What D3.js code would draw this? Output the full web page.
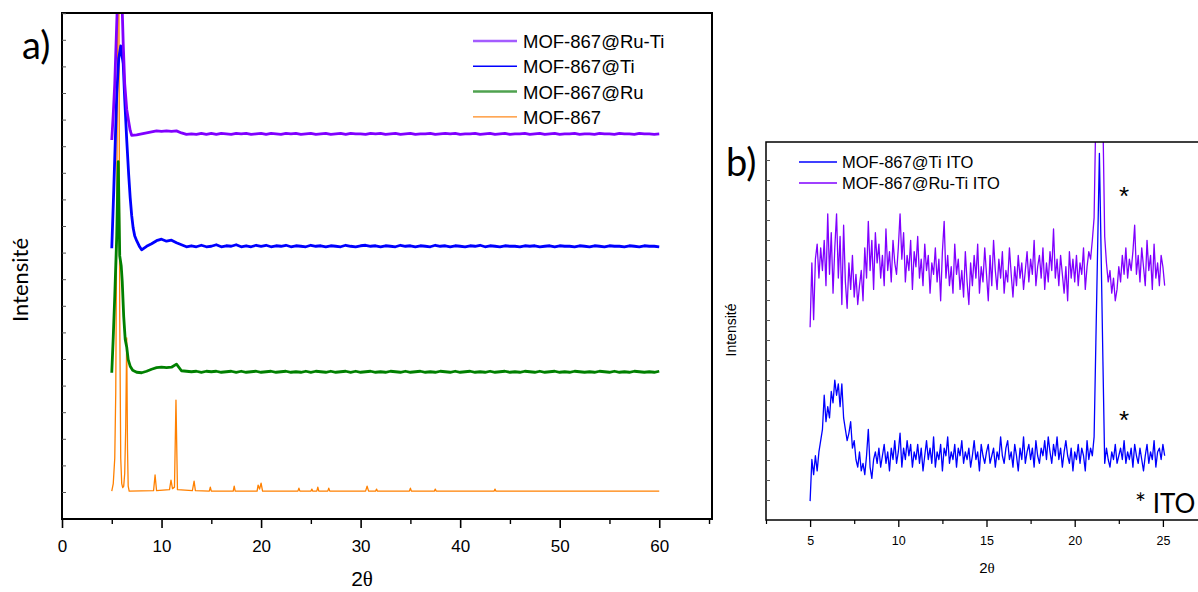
<!DOCTYPE html>
<html><head><meta charset="utf-8">
<script src="https://cdn.jsdelivr.net/npm/d3@7"></script>
<style>body{margin:0;background:#fff} svg{display:block}</style>
</head><body>
<svg id="c" width="1198" height="592"></svg>
<script>
// ---------------- Panel a data (2θ, intensity a.u., curves stacked) ----------------
const aSeriesNames = ["MOF-867@Ru-Ti", "MOF-867@Ti", "MOF-867@Ru", "MOF-867"];
const aXTicks = [0, 10, 20, 30, 40, 50, 60];
const aXMinor = [5, 15, 25, 35, 45, 55, 65];
const aTailStep = 0.5;

const purpleHead = [[5.0,74.9],[5.15,80],[5.3,86],[5.45,95],[5.6,104],[5.8,112],[6.0,104],[6.15,94],[6.3,86],[6.5,81],[6.7,78.5],[6.85,76.8],[7.0,75.8]];
const purpleTailStart = 7.5;
const purpleTail = [
 75.9,76.1,76.3,76.5,76.7,76.6,76.7,76.6,
 76.7,76.3,76.0,76.1,76.0,76.2,76.0,76.2,
 76.0,76.2,76.1,76.0,76.2,76.1,76.2,76.0,
 76.1,76.2,76.0,76.2,76.1,76.0,76.2,76.1,
 76.2,76.0,76.1,76.2,76.0,76.1,76.2,76.0,
 76.1,76.2,76.0,76.2,76.1,76.1,76.0,76.2,
 76.1,76.2,76.0,76.1,76.2,76.0,76.1,76.2,
 76.0,76.1,76.1,76.2,76.0,76.1,76.2,76.1,
 76.2,76.0,76.1,76.1,76.2,76.0,76.1,76.2,
 76.0,76.1,76.2,76.0,76.1,76.1,76.2,76.0,
 76.1,76.2,76.0,76.1,76.2,76.0,76.1,76.1,
 76.2,76.0,76.1,76.1,76.0,76.2,76.1,76.1,
 76.0,76.2,76.1,76.1,76.0,76.2,76.1,76.1,
 76.0,76.1];

const blueHead = [[5.0,53.5],[5.2,65],[5.5,84],[5.7,91],[5.9,93.5],[6.0,92],[6.15,90],[6.3,83],[6.5,75],[6.7,68],[6.85,63.5],[7.0,60],[7.15,57.5],[7.3,56],[7.5,55],[7.8,53.8]];
const blueTailStart = 8.0;
const blueTail = [
 53.2,53.9,54.4,55.0,55.3,54.9,55.1,54.6,
 54.2,53.8,54.0,53.8,54.1,53.8,53.9,54.2,
 53.8,54.0,53.9,54.2,53.8,54.0,53.8,54.1,
 53.9,54.1,53.8,54.0,53.9,54.1,53.8,54.0,
 53.9,53.8,54.1,53.9,54.0,53.8,54.0,53.9,
 53.8,54.1,53.9,53.8,54.0,54.1,53.9,54.0,
 53.8,54.0,53.9,53.8,54.1,53.9,54.0,53.8,
 54.0,53.9,53.8,54.1,53.9,54.0,53.8,54.0,
 53.9,53.8,54.0,53.9,54.1,53.8,54.0,53.9,
 53.8,54.0,53.9,53.9,53.8,54.0,53.9,54.0,
 53.8,53.9,54.0,53.8,54.0,53.9,53.9,53.8,
 54.0,53.9,53.8,54.0,53.9,53.8,54.0,53.9,
 53.9,53.8,54.0,53.9,53.8,54.0,53.9,53.9,
 53.8];

const greenHead = [[5.0,28.9],[5.15,36],[5.3,44],[5.5,56],[5.65,70.6],[5.8,52],[5.95,50],[6.05,47],[6.2,40],[6.35,35.5],[6.5,34],[6.65,31.5],[6.85,30.2],[7.1,29.4]];
const greenTailStart = 7.5;
const greenTail = [
 29.0,28.9,29.2,29.6,29.9,30.0,29.9,30.0,
 30.6,29.3,29.2,29.1,29.2,29.0,29.2,29.1,
 29.2,29.0,29.1,29.2,29.0,29.2,29.0,29.1,
 29.2,29.0,29.1,29.2,29.0,29.1,29.2,29.0,
 29.1,29.0,29.2,29.0,29.2,29.1,29.0,29.2,
 29.0,29.1,29.2,29.0,29.2,29.0,29.1,29.2,
 29.0,29.1,29.0,29.2,29.1,29.0,29.2,29.0,
 29.1,29.2,29.0,29.1,29.0,29.2,29.1,29.0,
 29.2,29.0,29.1,29.2,29.0,29.1,29.0,29.2,
 29.0,29.1,29.2,29.0,29.1,29.0,29.2,29.1,
 29.0,29.2,29.0,29.1,29.2,29.0,29.1,29.0,
 29.2,29.1,29.0,29.1,29.0,29.2,29.1,29.0,
 29.2,29.0,29.1,29.0,29.2,29.1,29.0,29.1,
 29.0,29.2];

const orangePoints = [[5.0,5.5],[5.15,7],[5.3,12],[5.4,25],[5.5,60],[5.58,100],[5.65,120],[5.72,100],[5.8,40],[5.9,12],[6.0,7],[6.1,6.2],[6.2,6.5],[6.3,9],[6.4,18],[6.5,35.8],[6.58,14],[6.65,6.5],[6.75,5.5],
 [9.2,5.6],[9.35,8.7],[9.5,5.6],[10.8,5.8],[10.95,7.7],[11.1,6.0],[11.3,6.3],[11.45,23.5],[11.6,5.8],[13.1,5.6],[13.27,7.5],[13.4,5.6],
 [14.8,5.5],[14.9,6.3],[15.0,5.5],[17.2,5.5],[17.3,6.5],[17.4,5.5],[19.6,5.5],[19.7,6.7],[19.85,5.9],[20.0,7.1],[20.15,5.5],
 [23.7,5.5],[23.8,6.1],[23.9,5.5],[25.0,5.5],[25.1,5.9],[25.2,5.5],[25.6,5.5],[25.7,6.3],[25.8,5.5],[26.7,5.5],[26.8,6.1],[26.9,5.5],
 [30.5,5.5],[30.65,6.5],[30.8,5.5],[31.5,5.5],[31.6,5.9],[31.7,5.5],[34.9,5.5],[35.0,6.1],[35.1,5.5],[37.4,5.5],[37.5,5.9],[37.6,5.5],
 [43.4,5.5],[43.5,5.9],[43.6,5.5],[60.0,5.5]];

// ---------------- Panel b data (2θ from 5.0 to 25.1 in 0.1 steps) ----------------
const bSeriesNames = ["MOF-867@Ti ITO", "MOF-867@Ru-Ti ITO"];
const bXTicks = [5, 10, 15, 20, 25];
const bXMinor = [2.5, 7.5, 12.5, 17.5, 22.5, 27.5];
const bStart = 5.0, bStep = 0.1;
const bBlue = [
 5,16,12,17,13,18,21,24,33,26,
 30,27,34,31,37,33,36,30,36,27,
 24,21,23,26,19,21,16,14,18,13,
 15,12,17,24,14,11,16,18,15,19,
 14,17,20,15,18,13,19,16,21,15,
 18,23,14,19,16,21,17,20,14,18,
 16,20,15,19,13,17,21,16,19,15,
 22,14,18,16,20,13,19,17,22,15,
 18,16,20,14,19,17,21,15,18,16,
 19,14,17,21,16,18,13,20,17,15,
 18,20,15,17,19,14,18,16,22,17,
 15,19,21,16,18,14,20,17,13,19,
 16,22,15,18,20,16,19,14,21,17,
 15,19,17,21,16,22,18,15,20,17,
 22,16,19,14,18,21,17,15,19,13,
 18,16,20,15,19,17,13,21,16,19,
 17,22,47,72,97,70,42,15,19,16,
 14,18,16,20,15,17,19,16,21,15,
 18,16,19,14,20,17,15,19,16,13,
 17,20,15,18,16,21,14,18,19,16,
 20,17];
const bPurple = [
 51,68,53,69,73,64,72,66,74,62,
 81,65,76,60,72,81,64,75,57,78,
 63,56,68,61,70,59,65,57,62,66,
 58,72,64,79,66,74,61,76,68,73,
 64,70,62,77,66,71,63,74,68,65,
 72,81,69,76,63,70,66,74,61,71,
 67,75,64,69,62,73,66,70,60,68,
 65,72,63,69,58,71,79,64,70,62,
 67,60,73,65,69,61,66,59,71,63,
 57,68,62,70,64,73,60,67,63,72,
 65,58,70,62,74,66,61,69,64,71,
 60,66,63,72,65,59,67,62,70,64,
 68,61,66,71,63,69,65,74,62,67,
 70,64,72,61,68,63,71,66,77,64,
 69,62,70,65,60,67,58,71,64,69,
 63,70,62,68,65,72,61,67,71,69,
 74,80,108,135,140,130,106,75,68,63,
 66,60,64,58,61,67,63,70,65,72,
 64,69,66,71,78,65,70,63,72,67,
 62,74,66,70,61,73,64,68,62,70,
 67,62];

// ---------------- Drawing ----------------
const svg = d3.select('#c');
const SANS = "'Liberation Sans', Arial, sans-serif";
const HUM = "Lato, 'Open Sans', sans-serif";

const withTail = (head, start, vals) => head.concat(vals.map((v, i) => [start + i * aTailStep, v]));
const purpleA = withTail(purpleHead, purpleTailStart, purpleTail);
const blueA = withTail(blueHead, blueTailStart, blueTail);
const greenA = withTail(greenHead, greenTailStart, greenTail);

// Panel a scales
const aX = d3.scaleLinear().domain([0, 65.3]).range([62, 712]);
const aY = d3.scaleLinear().domain([0, 100]).range([519, 13]);

const defs = svg.append('defs');
defs.append('clipPath').attr('id', 'clipA').append('rect')
  .attr('x', aX(0)).attr('y', aY(100)).attr('width', aX(65.3) - aX(0)).attr('height', aY(0) - aY(100));

const gA = svg.append('g');
const lineA = d3.line().x(d => aX(d[0])).y(d => aY(d[1]));
const plotA = gA.append('g').attr('clip-path', 'url(#clipA)');
const aLines = [
  {data: orangePoints, color: '#ff8000', w: 1.3},
  {data: greenA, color: '#008000', w: 2.8},
  {data: blueA, color: '#0000ff', w: 2.8},
  {data: purpleA, color: '#8000ff', w: 2.8}
];
aLines.forEach(s => plotA.append('path').datum(s.data).attr('d', lineA)
  .attr('fill', 'none').attr('stroke', s.color).attr('stroke-width', s.w).attr('stroke-linejoin', 'round'));

// frame a
gA.append('rect').attr('x', aX(0)).attr('y', aY(100)).attr('width', aX(65.3) - aX(0)).attr('height', aY(0) - aY(100))
  .attr('fill', 'none').attr('stroke', '#000').attr('stroke-width', 2);

// x axis a
const axA = gA.append('g').attr('transform', `translate(0,${aY(0)})`)
  .call(d3.axisBottom(aX).tickValues(aXTicks).tickSize(9).tickPadding(12).tickSizeOuter(0));
axA.select('.domain').remove();
axA.selectAll('line').attr('stroke-width', 1.6);
axA.selectAll('text').attr('font-family', SANS).attr('font-size', 17).attr('fill', '#000');
const axAm = gA.append('g').attr('transform', `translate(0,${aY(0)})`)
  .call(d3.axisBottom(aX).tickValues(aXMinor).tickSize(5).tickFormat('').tickSizeOuter(0));
axAm.select('.domain').remove();
axAm.selectAll('line').attr('stroke-width', 1.4);

// y ticks a (inward, unlabeled)
const aYTicks = d3.range(aY.invert(492), 100, aY.invert(492) - aY.invert(518.6));
const ayA = gA.append('g').attr('transform', `translate(${aX(0)},0)`)
  .call(d3.axisRight(aY).tickValues(aYTicks).tickSize(4).tickFormat('').tickSizeOuter(0));
ayA.select('.domain').remove();
ayA.selectAll('line').attr('stroke', '#555').attr('stroke-width', 1);

// axis titles a
const t2a = gA.append('text').attr('x', 362).attr('y', 586).attr('text-anchor', 'middle')
  .attr('font-size', 21).attr('fill', '#000');
t2a.append('tspan').attr('font-family', SANS).text('2');
t2a.append('tspan').attr('font-family', "'Liberation Serif', serif").text('θ');
gA.append('text').attr('transform', 'translate(28,280) rotate(-90)').attr('text-anchor', 'middle')
  .attr('font-family', HUM).attr('font-size', 22).attr('fill', '#000').text('Intensité');
gA.append('text').attr('x', 22).attr('y', 59).attr('font-family', HUM).attr('font-size', 38).attr('fill', '#000').text('a)');

// legend a
const legA = [
  {name: aSeriesNames[0], color: '#a45cff', w: 2.5},
  {name: aSeriesNames[1], color: '#0000ff', w: 1.4},
  {name: aSeriesNames[2], color: '#4fa24f', w: 2.5},
  {name: aSeriesNames[3], color: '#ff8a1c', w: 1.4}
];
legA.forEach((l, i) => {
  const y = 41 + i * 25.3;
  gA.append('line').attr('x1', 473).attr('x2', 517).attr('y1', y).attr('y2', y)
    .attr('stroke', l.color).attr('stroke-width', l.w);
  gA.append('text').attr('x', 523).attr('y', y + 7).attr('font-family', SANS).attr('font-size', 18.5)
    .attr('fill', '#000').text(l.name);
});

// Panel b
const bX = d3.scaleLinear().domain([2.5, 27.5]).range([766, 1207]);
const bY = d3.scaleLinear().domain([0, 100]).range([520, 142]);
defs.append('clipPath').attr('id', 'clipB').append('rect')
  .attr('x', bX(2.5)).attr('y', bY(100)).attr('width', bX(27.5) - bX(2.5)).attr('height', bY(0) - bY(100));
const gB = svg.append('g');
const toPairs = vals => vals.map((v, i) => [bStart + i * bStep, v]);
const lineB = d3.line().x(d => bX(d[0])).y(d => bY(d[1]));
const plotB = gB.append('g').attr('clip-path', 'url(#clipB)');
plotB.append('path').datum(toPairs(bBlue)).attr('d', lineB).attr('fill', 'none')
  .attr('stroke', '#0000ff').attr('stroke-width', 1.3).attr('stroke-linejoin', 'round');
plotB.append('path').datum(toPairs(bPurple)).attr('d', lineB).attr('fill', 'none')
  .attr('stroke', '#8000ff').attr('stroke-width', 1.3).attr('stroke-linejoin', 'round');

gB.append('rect').attr('x', bX(2.5)).attr('y', bY(100)).attr('width', bX(27.5) - bX(2.5)).attr('height', bY(0) - bY(100))
  .attr('fill', 'none').attr('stroke', '#000').attr('stroke-width', 1.5);

const axB = gB.append('g').attr('transform', `translate(0,${bY(0)})`)
  .call(d3.axisBottom(bX).tickValues(bXTicks).tickSize(7).tickPadding(9).tickSizeOuter(0));
axB.select('.domain').remove();
axB.selectAll('line').attr('stroke-width', 1.3);
axB.selectAll('text').attr('font-family', SANS).attr('font-size', 12.5).attr('fill', '#000');
const axBm = gB.append('g').attr('transform', `translate(0,${bY(0)})`)
  .call(d3.axisBottom(bX).tickValues(bXMinor).tickSize(4).tickFormat('').tickSizeOuter(0));
axBm.select('.domain').remove();
axBm.selectAll('line').attr('stroke-width', 1.2);

const bYTicks = d3.range(1, 19).map(k => bY.invert(520 - 20 * k));
const ayB = gB.append('g').attr('transform', `translate(${bX(2.5)},0)`)
  .call(d3.axisRight(bY).tickValues(bYTicks).tickSize(4).tickFormat('').tickSizeOuter(0));
ayB.select('.domain').remove();
ayB.selectAll('line').attr('stroke', '#555').attr('stroke-width', 1);

const t2b = gB.append('text').attr('x', 987).attr('y', 573).attr('text-anchor', 'middle')
  .attr('font-size', 15).attr('fill', '#000');
t2b.append('tspan').attr('font-family', SANS).text('2');
t2b.append('tspan').attr('font-family', "'Liberation Serif', serif").text('θ');
gB.append('text').attr('transform', 'translate(736,330) rotate(-90)').attr('text-anchor', 'middle')
  .attr('font-family', SANS).attr('font-size', 14).attr('fill', '#000').text('Intensité');
gB.append('text').attr('x', 726).attr('y', 176).attr('font-family', HUM).attr('font-size', 38).attr('fill', '#000').text('b)');

const legB = [{name: bSeriesNames[0], color: '#0000ff'}, {name: bSeriesNames[1], color: '#8000ff'}];
legB.forEach((l, i) => {
  const y = 162 + i * 21;
  gB.append('line').attr('x1', 799).attr('x2', 837).attr('y1', y).attr('y2', y)
    .attr('stroke', l.color).attr('stroke-width', 1.3);
  gB.append('text').attr('x', 842).attr('y', y + 6.3).attr('font-family', SANS).attr('font-size', 16.5)
    .attr('fill', '#000').text(l.name);
});

// ITO markers
[205, 429].forEach(y => gB.append('text').attr('x', 1124).attr('y', y).attr('text-anchor', 'middle')
  .attr('font-family', SANS).attr('font-size', 26).attr('fill', '#000').text('*'));
gB.append('text').attr('x', 1135).attr('y', 513).attr('font-family', HUM).attr('font-size', 26)
  .attr('fill', '#000').text('* ITO');
</script>
</body></html>
